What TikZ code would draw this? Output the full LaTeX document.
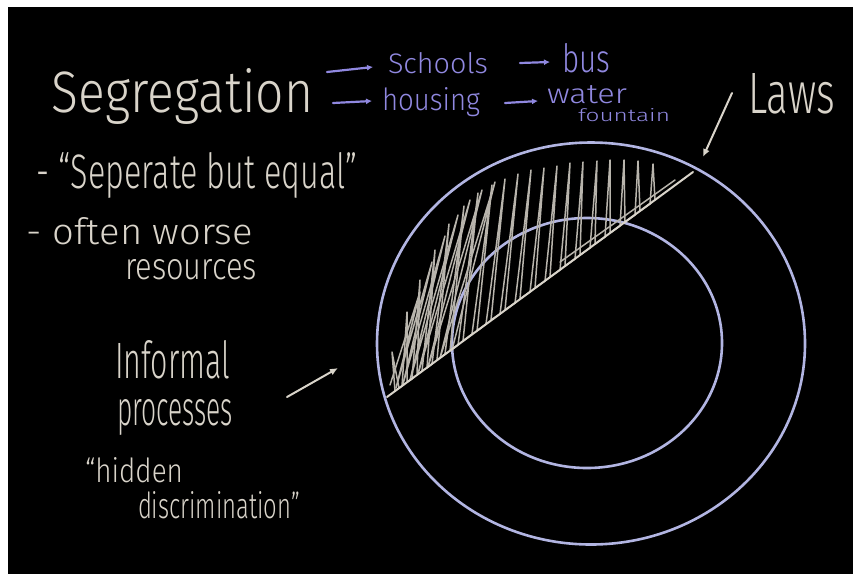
\documentclass[tikz,border=0pt]{standalone}
\usepackage{fontspec}
\setmainfont{Fira Sans Light}
\usetikzlibrary{arrows.meta}
\definecolor{chalk}{HTML}{D9D4CA}
\definecolor{penblue}{HTML}{9088E0}
\definecolor{ringblue}{HTML}{B2B5E2}
\newcommand\hwfit[3]{\resizebox{#1pt}{#2pt}{#3}}
\begin{document}
\begin{tikzpicture}[x=1pt,y=-1pt,
  txt/.style={anchor=base west,inner sep=0pt,outer sep=0pt,text=chalk},
  btxt/.style={anchor=base west,inner sep=0pt,outer sep=0pt,text=penblue},
  barrow/.style={draw=penblue,line width=2.2pt,line cap=round,-{Latex[length=6pt,width=6pt]}},
  warrow/.style={draw=chalk,line width=2pt,line cap=round,-{Latex[length=8pt,width=7pt]}},
  ring/.style={draw=ringblue,line width=2.6pt},
  chalkline/.style={draw=chalk,line width=2pt,line cap=round,line join=round},
  hatch/.style={draw=chalk!85!black,line width=1.5pt,line cap=round,line join=round}]
\useasboundingbox (0,0) rectangle (853,574);
\fill[white] (0,0) rectangle (853,574);
\fill[black] (8,7) rectangle (853,574);

% title and blue list
\node[txt] (seg) at (52,112) {\hwfit{261}{44}{Segregation}};
\node[btxt] (schools) at (388,73) {\hwfit{100}{21}{Schools}};
\node[btxt] (bus) at (562,72) {\hwfit{48}{29}{bus}};
\node[btxt] (housing) at (382,110) {\hwfit{98}{23}{housing}};
\node[btxt] (water) at (547,103) {\hwfit{80}{18}{water}};
\node[btxt] (fountain) at (578,121) {\hwfit{92}{13}{fountain}};

\coordinate (a1s) at (327,72); \coordinate (a1e) at (373,67);
\coordinate (a2s) at (520,63); \coordinate (a2e) at (550,62);
\coordinate (a3s) at (333,103); \coordinate (a3e) at (372,101);
\coordinate (a4s) at (505,103); \coordinate (a4e) at (538,101);
\draw[barrow] (a1s) -- (a1e);
\draw[barrow] (a2s) -- (a2e);
\draw[barrow] (a3s) -- (a3e);
\draw[barrow] (a4s) -- (a4e);

% left notes
\node[txt] (sep) at (37,188) {\hwfit{320}{36}{- “Seperate but equal”}};
\node[txt] (often) at (27,244) {\hwfit{226}{27}{- often worse}};
\node[txt] (res) at (125,279) {\hwfit{132}{20}{resources}};
\node[txt] (inf) at (115,378) {\hwfit{115}{38}{Informal}};
\node[txt] (proc) at (117,425) {\hwfit{116}{26}{processes}};
\node[txt] (hid) at (85,482) {\hwfit{98}{25}{“hidden}};
\node[txt] (disc) at (138,518) {\hwfit{162}{27}{discrimination”}};

% Laws
\node[txt] (laws) at (748,113) {\hwfit{87}{40}{Laws}};
\coordinate (lawsA) at (732,93); \coordinate (lawsB) at (703,157);
\draw[warrow] (lawsA) -- (lawsB);
\coordinate (infA) at (287,397); \coordinate (infB) at (338,368);
\draw[warrow] (infA) -- (infB);

% rings
\draw[ring] (591,343.5) ellipse [x radius=214pt, y radius=201pt];
\draw[ring] (587,343) ellipse [x radius=135pt, y radius=125pt];

% hatching (narrow up-down strokes resting on the chord)
\draw[hatch] (395,391) -- (392,352) -- (399,388) -- (402,386) -- (407,312) -- (407,382)
  -- (412,379) -- (420,280) -- (417,375) -- (422,371) -- (435,250) -- (427,368)
  -- (432,364) -- (449,224) -- (437,360) -- (445,354) -- (464,206) -- (450,351)
  -- (458,345) -- (478,193) -- (463,341) -- (472,334) -- (492,185) -- (477,331)
  -- (486,324) -- (505,179) -- (491,320) -- (500,314) -- (518,174) -- (505,310)
  -- (515,303) -- (531,170) -- (520,299) -- (530,292) -- (544,168) -- (535,288)
  -- (545,281) -- (557,166) -- (550,277) -- (560,270) -- (570,163) -- (565,266)
  -- (575,259) -- (583,162) -- (580,255) -- (590,248) -- (597,161) -- (595,244)
  -- (605,237) -- (610,160) -- (610,233) -- (620,226) -- (624,160) -- (625,222)
  -- (635,215) -- (638,161) -- (640,211) -- (650,204) -- (653,164) -- (655,200);
% slanted scribbles along the outer ring on the left
\draw[hatch] (390,385) -- (420,292) -- (396,388) -- (432,262) -- (403,384)
  -- (445,236) -- (410,380) -- (458,215) -- (418,374) -- (470,200) -- (428,367)
  -- (482,190) -- (440,358) -- (495,182) -- (452,350);
% chord
\coordinate (c1) at (387,397); \coordinate (c2) at (693,172);
\draw[chalkline] (c1) -- (c2);
\coordinate (u1) at (560,262); \coordinate (u2) at (675,180);
\draw[hatch] (u1) -- (u2);
\end{tikzpicture}
\end{document}
